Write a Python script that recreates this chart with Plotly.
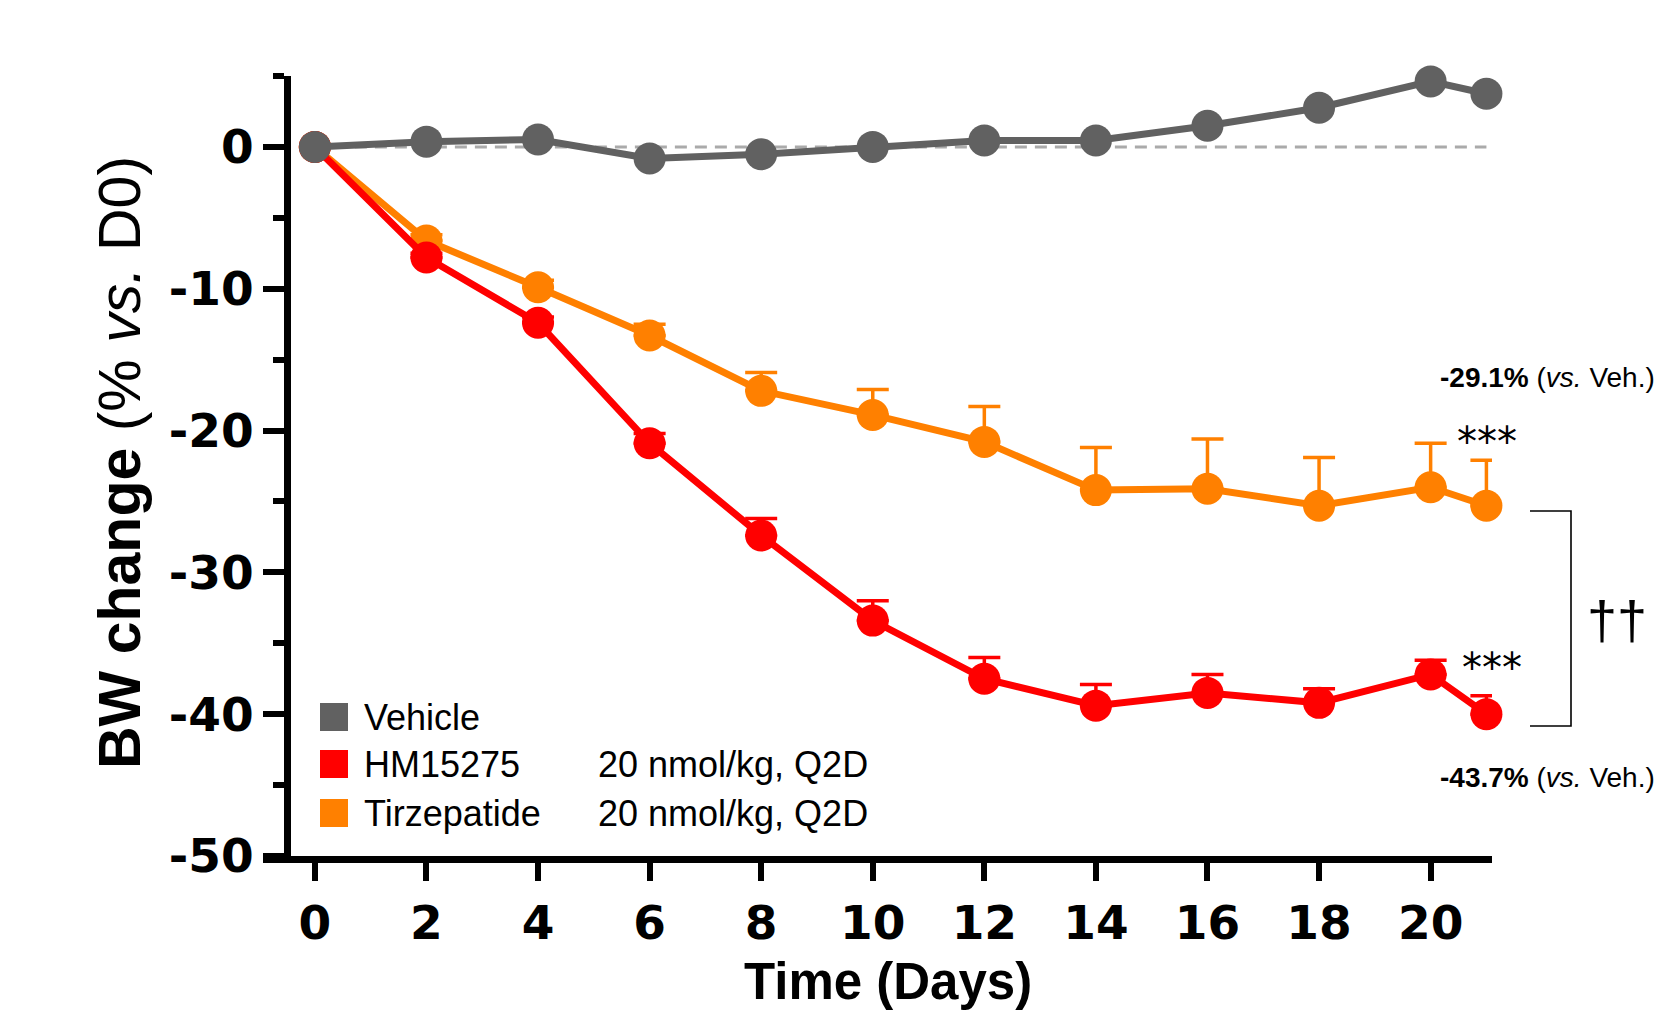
import plotly.graph_objects as go

# ---------------- data ----------------
days = [0, 2, 4, 6, 8, 10, 12, 14, 16, 18, 20, 21]
vehicle = [0.0, 0.37, 0.52, -0.82, -0.52, 0.0, 0.45, 0.45, 1.49, 2.76, 4.62, 3.75]
hm15275 = [0.0, -7.8, -12.4, -20.9, -27.4, -33.4, -37.5, -39.4, -38.5, -39.2, -37.2, -40.0]
hm15275_err = [0.0, 0.3, 0.4, 0.7, 1.2, 1.4, 1.5, 1.5, 1.3, 1.0, 1.0, 1.3]
tirzepatide = [0.0, -6.6, -9.9, -13.3, -17.2, -18.9, -20.8, -24.2, -24.1, -25.3, -24.0, -25.3]
tirzepatide_err = [0.0, 0.4, 0.5, 0.8, 1.3, 1.8, 2.5, 3.0, 3.5, 3.4, 3.1, 3.2]
baseline = 0.0

x_ticks = [0, 2, 4, 6, 8, 10, 12, 14, 16, 18, 20]
x_tick_labels = ["0", "2", "4", "6", "8", "10", "12", "14", "16", "18", "20"]
y_ticks = [0, -10, -20, -30, -40, -50]
y_tick_labels = ["0", "-10", "-20", "-30", "-40", "-50"]
y_minor_ticks = [5, -5, -15, -25, -35, -45]
x_range = [-0.93, 21.1]
y_range = [-50, 5]

legend_names = ["Vehicle", "HM15275", "Tirzepatide"]
legend_doses = ["", "20 nmol/kg, Q2D", "20 nmol/kg, Q2D"]

C_VEH = "#616161"
C_HM = "#FF0000"
C_TZ = "#FF8000"

# ---------------- layout geometry ----------------
FW, FH = 1662, 1010
ML, MR, MT, MB = 263, 170, 76, 154
PW = FW - ML - MR
PH = FH - MT - MB
LW = 7


def pxx(px):
    return (px - ML) / PW


def pyy(py):
    return (FH - MB - py) / PH


fig = go.Figure()

# zero reference line
fig.add_trace(go.Scatter(
    x=[days[0], days[-1]], y=[baseline, baseline], mode="lines",
    line=dict(color="#AAAAAA", width=3, dash="12px,8px"),
    hoverinfo="skip", showlegend=False, cliponaxis=False))

# Tirzepatide
fig.add_trace(go.Scatter(
    x=days, y=tirzepatide, mode="lines+markers", name="Tirzepatide",
    line=dict(color=C_TZ, width=7),
    marker=dict(color=C_TZ, size=32, line=dict(width=0)),
    error_y=dict(type="data", symmetric=False, array=tirzepatide_err,
                 arrayminus=[0] * len(days), color=C_TZ, thickness=3.5, width=16),
    showlegend=False, cliponaxis=False))

# HM15275
fig.add_trace(go.Scatter(
    x=days, y=hm15275, mode="lines+markers", name="HM15275",
    line=dict(color=C_HM, width=7),
    marker=dict(color=C_HM, size=32, line=dict(width=0)),
    error_y=dict(type="data", symmetric=False, array=hm15275_err,
                 arrayminus=[0] * len(days), color=C_HM, thickness=3.5, width=16),
    showlegend=False, cliponaxis=False))

# Vehicle
fig.add_trace(go.Scatter(
    x=days, y=vehicle, mode="lines+markers", name="Vehicle",
    line=dict(color=C_VEH, width=7),
    marker=dict(color=C_VEH, size=32, line=dict(width=0)),
    showlegend=False, cliponaxis=False))

tick_font = dict(family="DejaVu Sans", size=47, color="black", weight="bold")

fig.update_layout(
    width=FW, height=FH,
    margin=dict(l=ML, r=MR, t=MT, b=MB, pad=0, autoexpand=False),
    paper_bgcolor="white", plot_bgcolor="white",
    showlegend=False,
    xaxis=dict(range=x_range, showline=True, linewidth=LW, linecolor="black",
               ticks="outside", tickvals=x_ticks, ticktext=x_tick_labels,
               ticklen=18, tickwidth=6, automargin=False, ticklabelstandoff=2,
               tickcolor="black", tickfont=tick_font, showgrid=False,
               zeroline=False, anchor="y", domain=[0, 1]),
    yaxis=dict(range=y_range, showline=True, linewidth=LW, linecolor="black",
               ticks="outside", tickvals=y_ticks, ticktext=y_tick_labels,
               ticklen=21, tickwidth=6, automargin=False,
               tickcolor="black", tickfont=tick_font, showgrid=False,
               zeroline=False, anchor="free", position=pxx(287),
               minor=dict(tickvals=y_minor_ticks, ticks="outside", ticklen=11,
                          tickwidth=6, tickcolor="black", showgrid=False)),
)

ann = []
# axis titles
ann.append(dict(x=pxx(120), y=pyy(463), xref="paper", yref="paper",
                text="<b>BW change</b> (% <i>vs.</i> D0)", textangle=-90,
                showarrow=False, xanchor="center", yanchor="middle",
                font=dict(family="Liberation Sans", size=59, color="black")))
ann.append(dict(x=pxx(888), y=pyy(981), xref="paper", yref="paper",
                text="<b>Time (Days)</b>", showarrow=False,
                xanchor="center", yanchor="middle",
                font=dict(family="Liberation Sans", size=51, color="black")))

# percent annotations
pct_font = dict(family="Liberation Sans", size=28, color="black")
ann.append(dict(x=pxx(1657), y=pyy(378), xref="paper", yref="paper",
                text="<b>-29.1%</b> (<i>vs.</i> Veh.)", showarrow=False,
                xanchor="right", yanchor="middle", font=pct_font))
ann.append(dict(x=pxx(1657), y=pyy(777), xref="paper", yref="paper",
                text="<b>-43.7%</b> (<i>vs.</i> Veh.)", showarrow=False,
                xanchor="right", yanchor="middle", font=pct_font))

star_font = dict(family="DejaVu Sans", size=40, color="black")
ann.append(dict(x=pxx(1487), y=pyy(442), xref="paper", yref="paper",
                text="***", showarrow=False, xanchor="center", yanchor="middle",
                font=star_font))
ann.append(dict(x=pxx(1492), y=pyy(668), xref="paper", yref="paper",
                text="***", showarrow=False, xanchor="center", yanchor="middle",
                font=star_font))
ann.append(dict(x=pxx(1617), y=pyy(620), xref="paper", yref="paper",
                text="††", showarrow=False, xanchor="center", yanchor="middle",
                font=dict(family="Liberation Sans", size=54, color="black")))

# legend
leg_colors = [C_VEH, C_HM, C_TZ]
leg_y = [717, 764, 813]
shapes = []
for name, dose, col, yc in zip(legend_names, legend_doses, leg_colors, leg_y):
    shapes.append(dict(type="rect", xref="paper", yref="paper",
                       x0=pxx(320), x1=pxx(348), y0=pyy(yc + 14), y1=pyy(yc - 14),
                       fillcolor=col, line=dict(width=0)))
    ann.append(dict(x=pxx(362), y=pyy(yc), xref="paper", yref="paper",
                    text=name, showarrow=False, xanchor="left", yanchor="middle",
                    font=dict(family="Liberation Sans", size=36, color="black")))
    if dose:
        ann.append(dict(x=pxx(596), y=pyy(yc), xref="paper", yref="paper",
                        text=dose, showarrow=False, xanchor="left", yanchor="middle",
                        font=dict(family="Liberation Sans", size=36, color="black")))

# bracket
bx0, bx1, by0, by1 = pxx(1530), pxx(1571), pyy(511), pyy(726)
shapes.append(dict(type="path", xref="paper", yref="paper",
                   path=f"M {bx0},{by0} L {bx1},{by0} L {bx1},{by1} L {bx0},{by1}",
                   line=dict(color="black", width=1.6)))

fig.update_layout(annotations=ann, shapes=shapes)

fig.write_html("out.html", config={"displayModeBar": False},
               post_script="document.body.style.margin='0px';"
                           "document.body.style.overflow='hidden';")
